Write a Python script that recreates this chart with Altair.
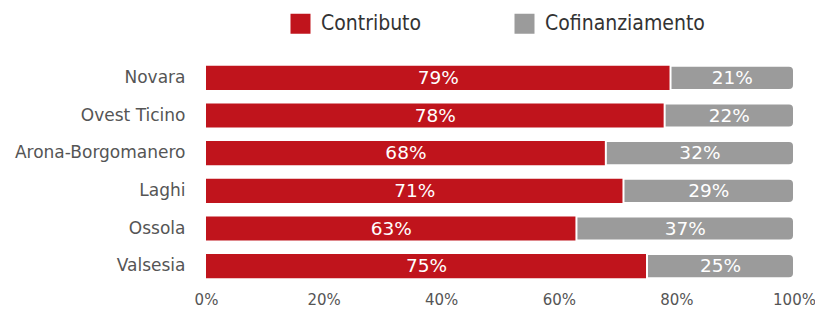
import altair as alt
import pandas as pd

regions = ["Novara", "Ovest Ticino", "Arona-Borgomanero", "Laghi", "Ossola", "Valsesia"]
contributo = [79, 78, 68, 71, 63, 75]
cofinanziamento = [21, 22, 32, 29, 37, 25]
x_ticks = [0, 20, 40, 60, 80, 100]

rows = []
for r, c, f in zip(regions, contributo, cofinanziamento):
    rows.append({"region": r, "serie": "Contributo", "start": 0, "end": c, "val": c, "mid": c / 2})
    rows.append({"region": r, "serie": "Cofinanziamento", "start": c, "end": c + f, "val": f, "mid": c + f / 2})
df = pd.DataFrame(rows)
df["label"] = df["val"].astype(str) + "%"

color = alt.Color(
    "serie:N",
    scale=alt.Scale(domain=["Contributo", "Cofinanziamento"], range=["#c0141c", "#9b9b9b"]),
    legend=alt.Legend(
        title=None, orient="none", direction="horizontal", legendX=84, legendY=-46,
        symbolType="square", symbolSize=400, symbolStrokeWidth=0, symbolOpacity=1,
        labelFont="DejaVu Sans Condensed", labelFontSize=21, labelColor="#333333",
        columnPadding=92, labelOffset=10,
    ),
)

y = alt.Y("region:N", sort=regions, title=None,
          scale=alt.Scale(paddingInner=0.36, paddingOuter=0.18),
          axis=alt.Axis(domain=False, ticks=False, labelFont="DejaVu Sans", labelFontSize=17,
                        labelColor="#555555", labelPadding=21))
x = alt.X("start:Q", title=None, scale=alt.Scale(domain=[0, 100], nice=False),
          axis=alt.Axis(values=x_ticks, labelExpr="datum.value + '%'", domain=False, ticks=False,
                        grid=False, labelFlush=False, labelFont="DejaVu Sans", labelFontSize=15,
                        labelColor="#555555", labelPadding=7))

red = alt.Chart(df).transform_filter(alt.datum.serie == "Contributo").mark_bar().encode(
    x=x, x2="end:Q", y=y, color=color)
gray = alt.Chart(df).transform_filter(alt.datum.serie == "Cofinanziamento").mark_bar(
    cornerRadiusTopRight=5, cornerRadiusBottomRight=5, stroke="white", strokeWidth=2).encode(
    x=x, x2="end:Q", y=y, color=color)
text = alt.Chart(df).mark_text(color="white", fontSize=18.5, font="DejaVu Sans").encode(
    x=alt.X("mid:Q"), y=alt.Y("region:N", sort=regions), text="label:N")

chart = alt.layer(red, gray, text).properties(
    width=588, height=226,
    autosize=alt.AutoSizeParams(type="none"),
    padding={"left": 198, "top": 51, "right": 21, "bottom": 25},
).configure_view(stroke=None)

chart.save("out.html", embed_options={"renderer": "svg", "actions": False})
